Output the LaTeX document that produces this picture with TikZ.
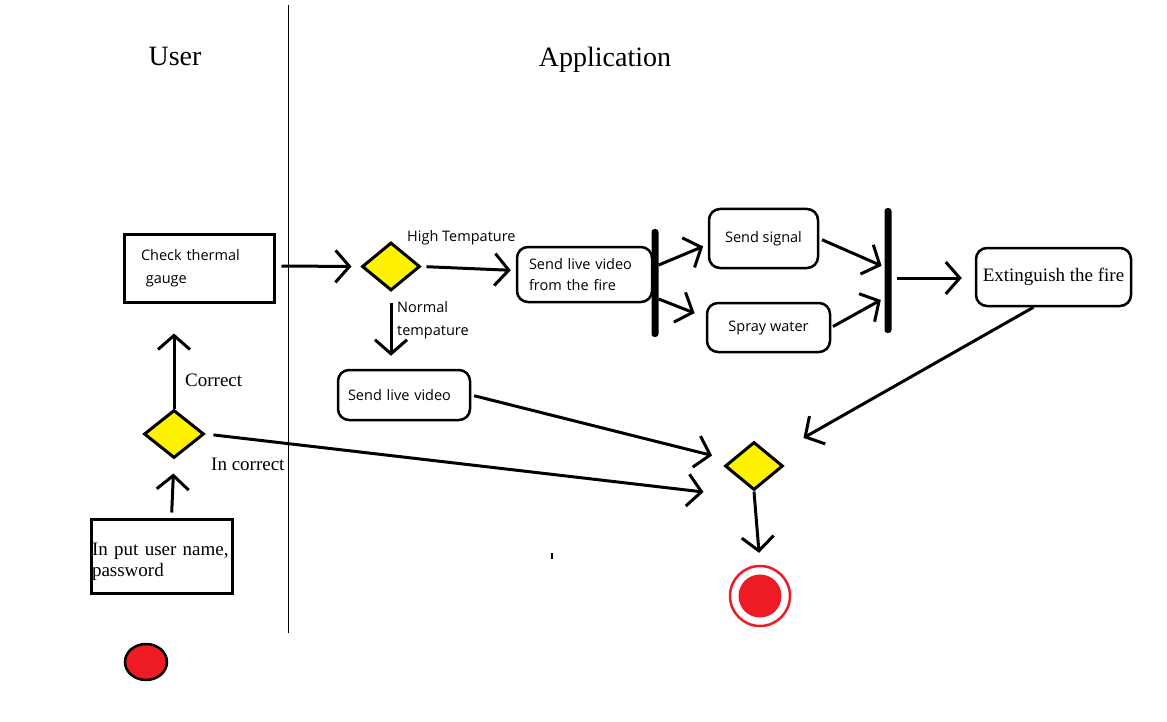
\documentclass[tikz,border=0pt]{standalone}
\usepackage{fontspec}
\setmainfont{Liberation Serif}
\newfontfamily\uifont{Open Sans}
\usetikzlibrary{shapes.geometric,arrows.meta,positioning}
\definecolor{paintred}{RGB}{237,28,36}
\definecolor{paintyellow}{RGB}{255,242,0}
\begin{document}
\begin{tikzpicture}[x=1pt,y=-1pt,
    lane/.style={line width=1pt},
    lanetitle/.style={anchor=base, font=\fontsize{28}{32}\selectfont},
    actbox/.style={draw, rectangle, line width=3pt, inner ysep=0pt},
    actround/.style={draw, rectangle, rounded corners=11pt, line width=2.5pt, inner ysep=0pt},
    uitext/.style={font=\uifont\fontsize{14.5}{21}\selectfont},
    serif/.style={font=\fontsize{19}{21}\selectfont},
    decision/.style={diamond, draw, line width=3pt, fill=paintyellow, inner sep=0pt, minimum width=58pt, minimum height=48pt},
    syncbar/.style={rectangle, fill=black, rounded corners=3pt, inner sep=0pt, minimum width=7pt},
    guard/.style={anchor=west, inner sep=0pt},
    flow/.style={line width=3pt, -{Straight Barb[length=14pt,width=32pt]}}]
    \useasboundingbox (0,0) rectangle (1167,722);

    % Swimlanes
    \draw [lane] (288,5) -- (288,633);%
    \node [lanetitle] (user) at (175,66) {User};%
    \node [lanetitle] (app) at (605,67) {Application};%

    % User side
    \node [actbox, serif, align=left, text width=139pt, inner xsep=1pt, minimum height=74pt] (input) at (161.5,556) {\rule{0pt}{25pt}In put user name,\\password};%
    \node [decision, minimum width=60pt] (login) at (174,434) {};%
    \node [guard, serif] (correct) at (185,380) {Correct};%
    \node [guard, serif] (incorrect) at (211,464) {In correct};%
    \node [actbox, uitext, font=\uifont\fontsize{14.5}{23}\selectfont, align=left, text width=116pt, inner xsep=17pt, minimum height=68pt] (check) at (199,268) {Check thermal\\\ gauge};%
    \node [ellipse, draw, line width=2.5pt, fill=paintred, minimum width=42pt, minimum height=36pt] (start) at (146,662) {};%

    % Application side
    \node [decision] (dia1) at (391,266.5) {};%
    \node [guard, uitext] (high) at (407,238) {High Tempature};%
    \node [guard, uitext, font=\uifont\fontsize{14.5}{23}\selectfont, align=left] (normal) at (397,320.5) {Normal\\tempature};%
    \node [actround, uitext, align=left, text width=111pt, inner xsep=12pt, minimum height=55pt] (sendfire) at (584.5,274.5) {Send live video\\from the fire};%
    \node [actround, uitext, align=left, text width=112pt, inner xsep=10pt, minimum height=50pt] (sendvid) at (404,395) {Send live video};%
    \node [syncbar, minimum height=108pt] (fork) at (655,283) {};%
    \node [actround, uitext, minimum width=109pt, minimum height=59pt] (signal) at (763.5,238.5) {Send signal};%
    \node [actround, uitext, minimum width=123pt, minimum height=49pt] (spray) at (768.5,327.5) {Spray water};%
    \node [syncbar, minimum height=125pt] (join) at (888,270.5) {};%
    \node [actround, serif, minimum width=155pt, minimum height=58pt] (ext) at (1053.5,277) {Extinguish the fire};%
    \node [decision] (fin) at (754,466) {};%
    \node [circle, draw=paintred, line width=2.5pt, minimum size=60pt] (endring) at (760,596) {};%
    \node [circle, fill=paintred, inner sep=0pt, minimum size=43pt] (finish) at (endring) {};%
    \fill (551,553) rectangle (553,559);%

    % Flows
    \draw [flow, shorten <=5pt, shorten >=14pt] ([shift={(10,0)}]input.north) -- (login.south);%
    \draw [flow, shorten >=30pt] (login.north) -- (login.north |- check.south);%
    \draw [flow, shorten <=8pt] (login.east) -- ([shift={(-20,26)}]fin.west);%
    \draw [flow, shorten <=6pt, shorten >=9pt] ([shift={(0,-2)}]check.east) -- (dia1.west);%
    \draw [flow, shorten <=5pt, shorten >=5pt] (dia1.east) -- ([shift={(0,-4)}]sendfire.west);%
    \draw [flow, shorten <=11pt, shorten >=13pt] (dia1.south) -- (dia1.south |- sendvid.north);%
    \draw [flow, shorten >=5pt] ([shift={(0,-18)}]fork.east) -- ([shift={(0,6)}]signal.west);%
    \draw [flow, shorten >=12pt] ([shift={(0,16)}]fork.east) -- ([shift={(0,-10)}]spray.west);%
    \draw [flow, shorten <=3pt, shorten >=3pt] (signal.east) -- ([shift={(0,-3.5)}]join.west);%
    \draw [flow, shorten <=2pt, shorten >=4pt] (spray.east) -- ([shift={(0,27.5)}]join.west);%
    \draw [flow, shorten <=5pt, shorten >=13pt] ([shift={(0,7.5)}]join.east) -- ([shift={(0,1)}]ext.west);%
    \draw [flow, shorten >=36pt] ([shift={(-20,0)}]ext.south) -- (fin);%
    \draw [flow, shorten <=3pt, shorten >=19pt] (sendvid.east) -- (fin);%
    \draw [flow, shorten >=12pt] (fin.south) -- (endring.north);%
\end{tikzpicture}
\end{document}
